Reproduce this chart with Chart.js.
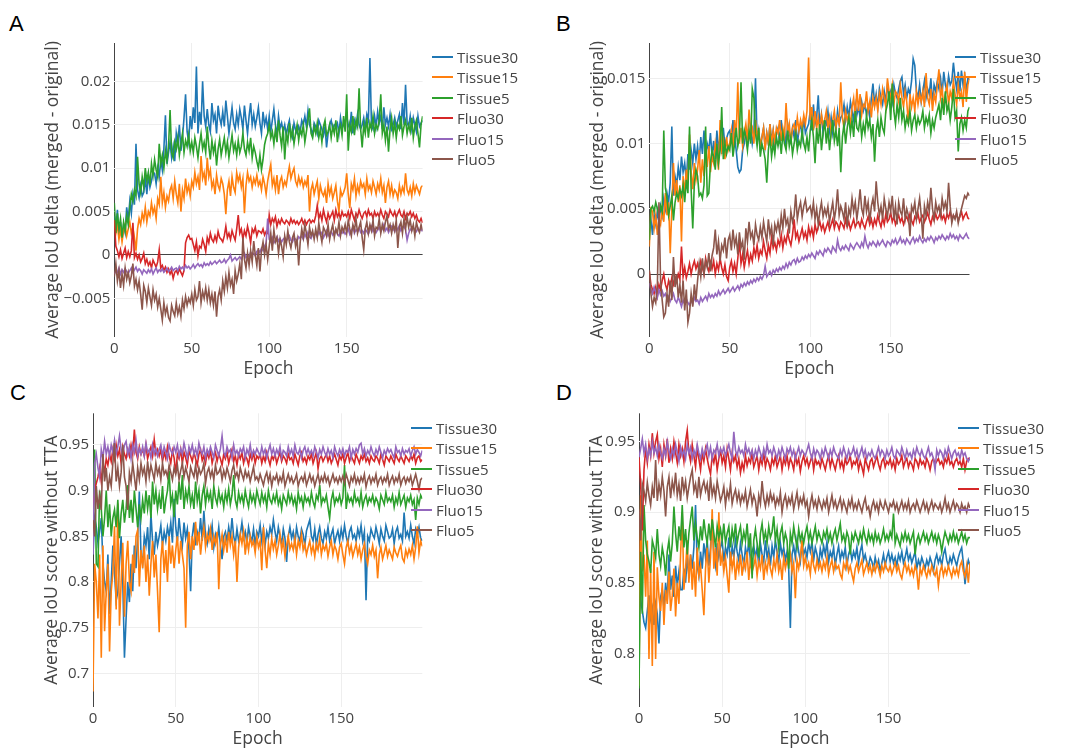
<!DOCTYPE html>
<html>
<head>
<meta charset="utf-8">
<script src="https://cdn.jsdelivr.net/npm/chart.js@4.4.1/dist/chart.umd.min.js"></script>
<style>
html,body{margin:0;padding:0;background:#fff;overflow:hidden;width:1067px;height:748px;}
canvas{position:absolute;}
.lbl{position:absolute;font-family:"Liberation Sans",Arial,sans-serif;font-size:22px;line-height:22px;color:#000;}
.leg{position:absolute;font-family:"Open Sans",sans-serif;font-size:15px;color:#444;z-index:5;}
.leg div{position:absolute;white-space:nowrap;height:20px;line-height:20px;}
.leg span.sw{position:absolute;left:0;top:9px;width:21px;height:2px;}
.leg span.tx{position:absolute;left:25px;top:0;}
</style>
</head>
<body>
<div class="lbl" style="left:9px;top:13px">A</div>
<div class="lbl" style="left:556px;top:13px">B</div>
<div class="lbl" style="left:10px;top:382px">C</div>
<div class="lbl" style="left:556px;top:382px">D</div>
<canvas id="cA" width="540" height="390" style="left:0;top:0"></canvas>
<canvas id="cB" width="522" height="390" style="left:545px;top:0"></canvas>
<canvas id="cC" width="540" height="380" style="left:0;top:380px"></canvas>
<canvas id="cD" width="522" height="380" style="left:545px;top:380px"></canvas>
<div class="leg" id="legA" style="left:432px;top:47px"></div>
<div class="leg" id="legB" style="left:955px;top:47px"></div>
<div class="leg" id="legC" style="left:411px;top:418px"></div>
<div class="leg" id="legD" style="left:958px;top:418px"></div>
<script>
// ---- series names and colours ----
const seriesNames = ['Tissue30','Tissue15','Tissue5','Fluo30','Fluo15','Fluo5'];
const seriesColors = ['#1f77b4','#ff7f0e','#2ca02c','#d62728','#9467bd','#8c564b'];
const xTicks = [0,50,100,150];
const epochCount = 200;
// units: panels A,B values in 1e-4 ; panels C,D in 1e-3
const deltaUnit = 1e-4;
const scoreUnit = 1e-3;

// ---- Panel A: Average IoU delta (merged - original), x1e-4 ----
const aTissue30 = [45,30,52,22,38,18,35,26,55,40, 62,48,70,58,128,75,66,80,68,72, 88,70,92,78,85,95,94,82,100,90, 110,98,122,161,105,118,130,112,125,108, 140,128,150,120,135,158,185,142,130,160, 145,170,152,217,140,165,150,200,160,148, 168,150,142,175,155,162,140,172,158,150, 165,148,178,160,140,155,170,152,145,162, 150,168,158,145,172,155,140,160,175,150, 162,148,158,170,152,140,165,150,158,145, 160,142,155,168,150,138,160,146,152,142, 150,138,148,155,140,135,152,144,140,148, 142,155,150,160,148,166,150,145,138,152, 148,140,155,150,145,138,148,124,140,150, 155,145,150,148,152,140,158,146,150,155, 160,150,145,165,140,155,148,162,150,145, 150,158,146,162,155,227,150,145,160,148, 165,152,160,145,170,150,158,148,162,145, 150,158,148,155,162,145,175,150,196,152, 148,160,145,158,150,142,160,148,152,155];
const aTissue15 = [40,25,35,18,30,15,28,35,22,30, 38,25,32,20,5,30,42,35,48,40, 55,38,50,45,60,48,55,42,65,58, 90,60,72,55,68,62,75,80,65,85, 70,60,82,50,75,65,88,72,80,68, 85,78,95,82,90,75,114,88,95,80, 112,90,98,78,85,70,92,80,75,88, 82,70,47,75,85,68,90,78,72,95, 85,92,78,88,48,80,95,85,90,78, 88,82,92,80,85,75,90,82,70,85, 95,104,80,88,75,92,70,85,90,78, 85,80,92,102,88,95,100,85,80,90, 82,88,78,85,80,92,50,75,82,70, 78,85,65,80,72,68,75,60,82,70, 78,65,72,80,62,50,75,68,72,78, 94,70,54,82,75,88,68,80,72,85, 78,82,70,88,75,80,72,85,78,70, 82,75,88,72,80,60,78,85,70,80, 68,75,72,65,80,70,78,72,94,75, 70,78,68,82,72,80,75,70,78,80];
const aTissue5 = [60,25,48,30,42,20,38,28,45,35, 55,70,62,75,68,113,82,72,90,78, 100,85,95,80,105,92,110,98,90,128, 105,115,100,120,108,125,167,118,112,130, 122,135,115,128,140,118,132,125,138,120, 130,118,135,125,112,128,140,122,130,118, 148,125,110,132,118,128,103,122,133,115, 125,135,118,130,112,125,138,120,128,115, 132,118,125,140,122,115,130,120,135,112, 125,118,108,100,115,98,110,127,135,140, 150,135,142,128,145,130,155,138,125,148, 110,140,130,152,135,145,128,140,150,132, 145,138,150,130,142,155,169,140,135,148, 140,152,135,145,130,148,155,138,142,150, 135,148,140,155,130,145,150,138,160,142, 185,120,150,142,160,138,155,148,192,145, 124,150,140,158,135,152,145,160,140,150, 145,155,185,140,150,132,148,119,145,158, 140,152,135,150,145,160,138,148,155,140, 150,142,158,135,148,155,140,124,150,160];
const aFluo30 = [40,10,5,-2,6,-4,2,8,-3,4, -2,5,37,-3,2,-5,0,-8,-4,2, -10,-5,-12,-8,-15,-6,-10,-14,-8,6, -15,-12,-18,-14,-20,-16,-22,-18,-27,-20, -18,-22,-16,-20,-24,-18,14,20,23,18, 19,12,5,15,-1,10,8,18,12,4, 20,14,25,18,15,22,16,27,20,18, 15,22,33,20,25,18,28,22,17,30, 46,25,30,18,28,22,33,25,14,30, 26,32,22,28,27,25,30,23,27,25, 46,35,42,38,44,33,40,36,42,38, 36,40,38,35,42,37,40,36,39,35, 38,42,36,40,35,39,41,37,40,38, 45,57,42,48,40,52,44,38,48,42, 46,50,40,52,44,48,42,50,45,47, 44,50,42,52,46,40,48,44,52,46, 42,48,50,44,52,46,48,42,50,45, 48,44,52,46,42,50,47,44,52,48, 45,50,43,48,52,46,44,50,42,48, 46,50,44,48,42,46,40,38,42,37];
const aFluo15 = [-22,-18,-20,-15,-22,-17,-20,-16,-19,-21, -18,-15,-20,-17,-14,-19,-16,-18,-22,-17, -19,-21,-17,-20,-16,-22,-18,-15,-20,-17, -19,-16,-20,-18,-15,-19,-17,-14,-18,-16, -15,-18,-13,-16,-14,-17,-12,-15,-13,-16, -14,-11,-15,-12,-10,-13,-11,-14,-9,-12, -10,-12,-8,-11,-9,-7,-10,-8,-6,-9, -8,-5,-9,-6,-4,0,-7,-5,-3,-6, -4,-2,-5,-1,2,-3,0,-2,3,1, 2,-1,4,6,3,8,5,10,14,42, 18,15,20,14,17,21,16,19,15,18, 20,16,19,22,17,15,20,18,16,21, 19,22,18,24,20,26,21,19,24,22, 25,21,27,23,26,20,24,28,22,25, 27,23,26,29,24,22,27,25,28,24, 26,30,24,28,32,25,29,27,31,26, 28,25,30,27,24,29,33,27,30,26, 29,32,27,30,35,28,31,26,30,33, 30,27,32,29,34,28,31,33,29,17, 25,30,28,32,29,27,31,28,30,27];
const aFluo5 = [-25,-10,-30,-18,-38,-22,-35,-15,-28,-20, -32,-24,-10,-36,-28,-40,-30,-45,-63,-35, -42,-55,-38,-48,-58,-40,-52,-45,-60,-50, -62,-75,-55,-68,-60,-72,-76,-58,-65,-70, -55,-68,-60,-71,-52,-62,-48,-58,-50,-55, -45,-58,-40,-52,-48,-30,-55,-42,-50,-38, -52,-40,-55,-45,-58,-42,-71,-48,-40,-52, -30,-42,-25,-38,-20,-35,-28,-45,-18,-30, -22,-10,-28,20,-5,-15,2,-12,5,-8, 16,0,-12,8,-19,5,15,0,12,-5, 10,25,5,29,15,20,2,18,10,-2, 22,12,28,15,8,20,25,10,18,-12, 15,30,20,35,25,12,32,22,28,18, 30,20,37,25,15,32,28,22,35,18, 28,35,20,30,25,38,22,32,27,35, 25,40,30,22,35,28,42,25,32,38, 20,6,30,38,25,35,28,40,22,32, 30,42,25,35,28,38,45,30,35,25, 35,28,40,8,32,38,25,42,30,44, 32,40,28,35,22,38,30,26,35,28];

// ---- Panel B: Average IoU delta (merged - original), x1e-4 ----
const bTissue30 = [35,42,30,45,38,48,40,52,45,58, 50,62,55,70,113,60,75,68,82,72, 90,78,85,72,92,80,95,85,100,88, 98,85,105,92,110,88,100,95,108,90, 102,88,110,95,105,92,112,98,104,108, 110,100,118,105,95,82,78,80,95,100, 110,98,105,112,100,108,150,102,110,96, 105,112,98,108,100,115,102,110,95,108, 112,100,118,105,110,98,115,108,102,112, 105,118,100,110,115,105,120,108,112,115, 125,110,130,115,120,137,112,122,108,118, 115,125,110,120,108,118,112,125,115,120, 122,130,118,128,120,132,125,118,130,122, 128,120,132,125,130,122,128,120,135,146, 130,138,128,142,135,130,140,132,145,136, 140,132,145,138,135,142,148,151,138,145, 135,142,138,148,165,160,140,135,145,132, 140,148,135,142,138,150,130,145,140,148, 142,150,138,155,145,140,152,145,148,162, 150,142,155,140,156,145,152,140,150,149];
const bTissue15 = [21,50,48,35,45,30,42,38,50,40, 62,45,55,16,50,85,60,72,55,68, 25,75,62,80,70,107,78,65,85,72, 80,95,70,88,75,92,82,98,78,90, 85,100,92,80,118,95,102,88,105,95, 100,110,95,118,105,147,100,112,98,108, 115,102,126,108,112,100,118,105,110,98, 105,112,95,108,100,115,98,110,102,112, 108,118,102,112,105,131,108,115,100,112, 115,108,120,110,118,112,122,115,125,166, 118,128,110,125,112,120,108,122,115,118, 125,112,120,108,118,125,112,120,115,147, 120,112,125,118,122,115,128,135,120,142, 125,138,122,130,128,140,125,132,120,135, 128,135,125,138,130,142,135,128,150,140, 135,145,130,140,138,132,145,135,128,140, 132,115,138,128,135,125,140,130,138,132, 140,128,154,135,130,142,125,138,132,145, 157,135,142,128,138,145,130,140,135,148, 138,130,145,135,140,128,155,132,145,150];
const bTissue5 = [26,50,52,48,55,50,45,52,48,110, 66,58,45,52,60,41,55,62,58,65, 60,68,55,72,62,113,65,35,70,80, 75,60,62,58,68,113,60,62,85,95, 90,80,100,85,95,128,88,100,92,98, 95,108,90,100,112,98,105,147,100,110, 105,95,110,100,142,135,108,98,112,90, 100,95,88,70,95,105,90,100,92,105, 98,105,92,108,100,95,110,98,105,92, 100,108,95,102,98,110,100,95,105,94, 110,118,105,85,112,100,115,95,108,118, 100,112,95,108,118,102,110,98,112,78, 105,115,100,112,120,108,118,105,125,112, 110,120,105,115,108,122,112,118,105,115, 86,110,118,105,120,112,108,125,130,140, 118,146,125,115,130,120,135,118,125,112, 120,115,125,110,118,122,112,120,115,118, 125,112,120,115,122,108,118,112,120,125, 130,118,135,122,140,125,130,118,128,142, 120,125,94,115,120,110,118,112,125,128];
const bFluo30 = [2,-8,-12,-15,-10,-17,-8,-12,-5,0, -8,-12,-5,-10,-3,-8,-2,-6,0,-4, 21,-2,5,-3,2,8,0,6,10,4, 8,2,10,5,0,12,6,2,9,4, 10,0,8,3,12,5,0,7,-2,-5, 5,10,2,8,0,12,25,8,15,5, 12,18,8,15,10,20,14,22,12,18, 15,25,18,12,22,16,28,20,24,18, 26,22,30,20,28,24,32,26,22,30, 42,28,32,25,30,35,28,32,26,36, 30,35,28,38,32,36,40,34,38,32, 36,40,34,38,42,35,40,38,34,40, 38,35,42,36,40,34,38,42,36,39, 40,36,42,38,35,40,44,38,42,36, 42,38,45,40,36,43,38,46,40,42, 47,40,44,38,42,45,40,43,38,42, 44,40,46,41,38,44,42,46,40,43, 45,40,43,47,42,38,44,41,46,42, 44,48,42,45,40,46,43,48,42,45, 43,46,41,44,48,42,45,47,43,42];
const bFluo15 = [-7,-12,-15,-10,-14,-18,-12,-16,-13,-17, -15,-19,-17,-21,-18,-15,-20,-22,-18,-21, -25,-20,-23,-19,-22,-24,-20,-23,-18,-21, -20,-23,-18,-21,-19,-17,-20,-15,-18,-16, -18,-15,-17,-13,-16,-14,-12,-15,-13,-11, -14,-12,-10,-13,-11,-9,-12,-8,-10,-7, -9,-6,-8,-5,-7,-4,-6,-3,-5,-2, -4,-1,6,-2,0,2,-1,3,1,4, 2,5,3,6,4,8,5,9,7,10, 11,8,12,9,10,13,11,14,12,15, 13,16,14,12,17,15,18,16,14,19, 17,20,18,16,21,19,17,26,20,18, 21,19,22,20,18,23,21,19,22,24, 22,20,24,21,29,23,20,24,22,25, 23,21,25,22,24,26,23,21,25,24, 22,26,24,27,23,25,28,24,26,23, 27,25,23,26,28,24,27,25,29,26, 24,27,25,28,26,29,27,24,28,26, 29,27,30,28,26,29,27,31,28,30, 27,29,26,30,28,27,29,31,28,27];
const bFluo5 = [3,-15,-25,-18,-22,-10,55,-5,-20,-33, -30,-15,-25,-5,-20,13,-10,0,-18,-8, -22,-5,-28,-12,-37,-30,-15,-25,-8,-20, -5,8,-2,12,0,10,5,16,2,14, 20,34,15,25,10,22,18,28,12,26, 30,18,34,22,28,15,32,20,25,11, 35,25,40,28,32,22,38,30,26,36, 28,40,32,25,42,30,36,22,38,33, 40,32,45,35,50,38,42,31,48,40, 45,61,42,50,55,44,52,57,48,50, 52,45,55,42,50,38,48,55,44,50, 45,52,40,48,55,42,50,65,45,52, 48,42,55,36,50,45,58,48,55,42, 52,65,50,45,60,48,55,40,52,58, 48,71,55,45,52,42,58,50,44,55, 48,60,42,52,38,55,48,45,58,42, 50,45,29,52,48,55,42,50,58,45, 27,52,45,55,48,66,50,42,55,48, 52,45,58,50,55,48,70,52,39,45, 42,48,39,45,50,55,60,58,62,60];

// ---- Panel C: Average IoU score without TTA, x1e-3 ----
const cTissue30 = [830,870,860,843,855,870,820,800,790,830, 765,800,840,810,780,789,820,850,800,717, 760,800,778,820,790,840,815,850,899,830, 820,850,840,860,825,875,845,830,855,840, 850,862,840,855,845,860,850,865,843,891, 860,845,870,852,840,865,848,858,835,790, 850,865,840,855,848,870,845,878,850,842, 858,848,862,838,852,845,860,840,825,850, 855,845,860,848,870,850,842,858,845,852, 865,848,855,842,860,850,845,858,840,855, 850,862,845,858,840,855,848,860,852,868, 855,845,860,850,842,858,848,822,850,860, 848,855,842,860,850,845,858,852,840,856, 862,868,850,845,858,840,852,860,848,842, 855,848,860,845,852,858,842,850,856,845, 858,848,862,850,842,855,860,848,852,845, 858,850,862,845,855,780,850,845,858,852, 848,860,852,842,858,850,845,862,855,848, 850,858,842,855,860,848,852,845,876,850, 855,848,862,850,842,858,852,860,848,845];
const cTissue15 = [680,820,800,760,830,717,840,746,790,820, 724,790,810,861,770,886,752,800,843,762, 820,845,800,790,830,810,850,857,795,835, 815,840,800,830,785,820,845,805,830,790, 745,825,845,810,835,800,850,820,840,815, 835,850,820,845,830,815,750,840,855,825, 850,835,866,840,855,830,848,860,838,852, 845,858,835,850,842,855,792,840,852,835, 848,832,855,840,850,830,845,800,838,852, 842,855,830,848,835,850,840,845,832,850, 838,845,813,860,835,815,842,830,848,836, 845,830,840,852,835,845,828,840,850,836, 842,835,848,830,845,838,852,835,842,830, 838,845,832,840,828,842,835,848,830,840, 835,842,828,838,845,830,840,835,825,838, 842,830,820,838,845,832,840,828,835,842, 830,838,825,835,842,828,820,835,830,840, 828,835,804,830,838,825,832,840,828,835, 830,825,838,832,828,835,840,826,822,835, 828,836,830,840,825,838,861,832,845,839];
const cTissue5 = [860,945,820,817,900,880,850,870,900,860, 885,850,870,879,860,890,848,875,890,865, 880,906,870,890,865,900,880,860,885,870, 890,875,900,880,895,870,910,885,900,880, 895,880,905,875,890,900,922,885,895,871, 900,885,910,890,917,880,900,890,905,885, 895,880,910,888,900,875,895,905,885,900, 890,898,880,905,892,885,900,888,895,882, 898,888,902,885,895,917,890,882,898,888, 895,885,900,890,882,898,888,895,885,900, 892,885,898,888,895,882,900,890,886,895, 888,898,885,892,880,895,890,885,898,888, 895,885,892,880,898,888,893,882,895,888, 892,885,898,888,882,895,890,906,885,892, 888,895,882,870,890,898,885,892,888,895, 885,892,928,880,895,888,892,885,898,888, 892,885,898,882,890,895,885,892,888,895, 885,892,888,880,895,890,885,898,888,892, 888,895,882,892,886,898,885,890,895,882, 892,888,895,885,890,868,892,885,895,891];
const cFluo30 = [880,900,908,915,925,910,930,920,935,928, 940,932,945,935,950,938,945,930,948,940, 935,945,938,950,940,967,942,935,948,940, 945,938,950,935,942,948,938,956,940,945, 938,945,932,942,935,948,938,930,944,936, 919,940,935,945,930,942,936,928,944,938, 932,942,935,928,940,945,933,938,930,942, 936,944,930,938,942,932,940,935,928,940, 935,942,930,938,945,932,938,928,940,935, 942,930,938,935,928,940,934,942,930,938, 935,940,930,938,932,942,935,928,938,934, 940,930,936,942,932,938,935,930,940,934, 936,930,940,934,928,938,942,932,936,930, 938,934,940,930,936,942,924,935,938,932, 936,940,932,938,930,935,940,934,928,938, 934,940,930,936,942,932,938,934,930,940, 935,930,938,934,940,932,936,930,938,934, 932,938,935,930,940,934,928,938,935,932, 938,934,930,940,935,932,938,934,930,938, 935,932,938,934,940,930,936,938,932,934];
const cFluo15 = [830,930,940,925,915,945,935,954,940,948, 938,950,942,955,940,948,960,945,938,950, 954,940,948,935,950,942,955,938,946,940, 948,938,952,942,945,936,950,940,946,938, 945,950,938,948,942,935,950,944,940,948, 942,950,938,946,940,952,944,936,948,942, 950,940,946,938,952,944,940,948,936,945, 940,948,942,936,950,944,938,946,960,942, 938,948,942,945,936,950,940,944,938,946, 942,948,936,945,940,950,938,944,940,946, 942,938,948,940,945,936,944,950,940,946, 938,945,940,948,936,944,942,938,948,940, 945,938,950,942,940,946,936,944,948,940, 946,940,944,938,948,942,936,945,940,948, 942,938,946,940,944,936,948,942,938,945, 940,946,938,944,942,948,936,945,940,946, 942,950,952,940,946,938,944,940,948,942, 938,945,940,948,942,936,944,940,946,942, 945,940,936,948,942,944,938,946,940,944, 942,946,938,944,948,940,945,942,938,944];
const cFluo5 = [868,850,905,880,895,879,940,910,925,900, 915,905,930,952,910,925,905,920,950,915, 905,879,920,910,930,915,900,925,912,930, 918,925,910,932,915,928,920,912,930,918, 925,912,930,918,922,915,928,920,912,925, 918,928,912,922,930,915,925,918,910,926, 920,915,928,912,925,918,922,930,908,920, 925,915,922,912,928,918,920,925,912,922, 915,925,918,910,922,928,915,920,912,925, 918,912,922,915,920,910,918,926,912,915, 910,918,912,906,915,920,910,918,905,915, 912,918,908,915,910,920,905,912,918,910, 915,908,912,918,905,912,915,910,918,906, 912,918,910,915,905,912,918,908,915,910, 918,910,915,906,912,918,910,914,908,915, 910,916,908,918,912,905,915,910,918,908, 914,908,915,910,918,904,912,916,908,914, 910,918,906,912,915,908,914,910,918,906, 912,916,908,914,910,918,906,912,915,908, 914,910,916,906,912,918,910,901,912,914];

// ---- Panel D: Average IoU score without TTA, x1e-3 ----
const dTissue30 = [828,838,830,822,818,830,841,825,832,820, 835,828,807,840,845,832,850,838,870,845, 855,840,862,848,858,845,845,860,850,868, 855,870,860,875,905,862,855,872,860,878, 868,880,862,875,895,870,862,878,868,875, 880,865,875,870,882,862,876,868,880,872, 866,878,870,862,875,868,880,865,872,876, 868,875,862,878,870,865,880,868,874,862, 876,868,880,872,865,878,870,875,866,872, 860,818,870,876,868,880,872,865,878,870, 874,868,878,872,879,866,875,870,862,874, 868,876,870,879,865,872,868,875,862,870, 876,866,872,868,875,862,870,874,866,872, 868,875,864,872,877,866,870,864,862,868, 865,860,868,862,866,858,864,870,862,868, 872,865,870,864,868,862,870,866,872,864, 868,874,866,870,864,868,872,860,866,862, 868,864,860,866,862,868,864,858,866,870, 864,868,862,870,874,866,862,868,864,870, 866,862,868,872,875,864,849,860,866,862];
const dTissue15 = [777,912,858,870,840,880,796,860,791,872, 796,861,840,830,850,820,845,835,858,830, 841,860,826,850,835,870,900,845,860,880, 850,870,845,865,840,875,855,862,845,827, 860,875,850,868,902,860,875,855,900,862, 870,858,868,855,843,872,860,868,852,865, 858,870,855,865,860,872,852,866,858,862, 868,855,865,860,870,852,864,858,868,860, 855,866,860,870,858,864,852,868,860,866, 862,870,858,864,839,866,860,868,880,862, 868,860,864,856,870,862,858,866,860,864, 858,865,860,868,856,862,866,858,864,860, 862,856,853,864,860,866,858,862,856,851, 860,864,858,862,866,856,860,864,858,862, 856,862,858,864,860,855,862,858,864,860, 858,862,856,860,864,858,862,856,853,860, 864,858,862,856,860,855,862,858,845,860, 856,862,858,854,860,856,862,858,855,860, 848,858,862,855,860,856,862,858,854,860, 856,860,855,862,865,858,854,862,850,864];
const dTissue5 = [775,872,828,905,880,870,865,857,880,875, 868,888,870,862,875,868,855,872,880,865, 878,904,885,872,890,880,905,875,888,870, 885,895,904,880,892,882,875,890,880,895, 885,878,892,880,895,885,875,890,882,888, 880,892,878,885,890,875,888,880,892,878, 885,890,878,886,880,892,875,885,853,880, 888,878,868,885,892,880,886,878,890,882, 886,897,880,888,875,885,890,878,885,880, 860,885,878,890,882,875,888,880,885,878, 885,890,880,886,878,884,890,880,886,882, 878,886,882,888,880,885,878,884,888,880, 886,892,880,884,878,886,882,870,884,880, 886,882,878,885,880,888,882,878,886,880, 884,878,886,880,884,878,882,888,880,884, 880,886,882,899,878,884,880,876,884,880, 886,880,884,878,882,886,870,880,884,878, 882,886,880,884,878,882,886,880,884,878, 884,880,872,880,886,882,878,884,880,886, 880,884,878,882,886,880,884,878,882,882];
const dFluo30 = [939,920,887,930,945,935,948,940,956,942, 950,955,938,945,932,948,940,952,935,945, 938,950,942,935,948,940,945,936,950,958, 942,936,948,940,932,945,938,930,942,936, 945,938,932,927,940,935,942,930,938,944, 935,940,932,945,938,930,942,936,940,932, 938,928,935,930,940,933,938,935,942,932, 936,940,930,938,934,942,932,938,935,930, 938,934,940,932,936,940,930,938,934,940, 932,938,935,930,940,934,938,929,936,940, 934,938,932,936,940,930,938,934,936,932, 938,934,930,936,940,932,938,934,930,936, 940,932,936,930,938,934,936,940,932,936, 934,938,930,936,932,927,938,934,930,936, 938,932,936,940,934,930,936,938,932,936, 934,938,932,936,930,938,934,936,940,932, 936,938,932,936,934,930,938,936,932,938, 934,936,932,938,935,930,936,938,934,936, 938,934,936,932,938,935,940,934,936,932, 936,938,934,936,932,938,930,936,938,937];
const dFluo15 = [939,945,952,942,948,938,945,940,950,942, 946,940,948,942,938,945,940,950,943,938, 945,940,948,942,936,946,940,944,938,948, 942,946,938,944,940,948,942,938,945,940, 944,948,940,946,938,944,942,948,940,945, 942,946,940,944,948,942,938,957,944,940, 946,942,944,940,948,942,945,940,944,938, 944,940,946,942,938,945,940,948,942,944, 940,946,942,938,944,940,946,942,938,945, 942,946,940,944,938,942,946,940,944,942, 940,944,948,942,938,945,940,944,942,938, 944,940,946,942,938,944,940,946,942,940, 938,944,940,946,942,938,944,940,942,946, 940,944,938,942,946,940,944,938,942,940, 944,940,938,942,946,940,944,942,938,944, 940,942,946,940,938,944,942,940,946,942, 938,944,940,942,938,944,940,946,942,940, 944,940,938,942,946,940,942,938,930,944, 940,944,942,938,944,940,946,942,938,942, 944,940,942,938,944,940,942,938,936,939];
const dFluo5 = [902,880,920,915,908,921,912,905,918,910, 937,908,920,912,925,915,897,918,925,910, 922,915,928,912,920,908,925,915,922,910, 918,925,930,915,920,910,925,912,918,922, 915,920,908,925,912,918,910,922,915,908, 912,918,905,915,910,920,906,912,916,908, 914,906,912,908,915,904,910,916,906,912, 908,897,912,906,922,910,904,912,906,914, 908,912,904,910,906,914,900,908,912,904, 910,906,912,902,908,914,904,910,906,912, 904,908,897,906,912,904,908,902,910,906, 902,908,904,910,900,906,912,904,908,902, 906,910,902,908,904,900,908,904,910,902, 906,902,908,904,900,906,910,902,904,897, 904,908,902,906,900,908,904,902,908,904, 900,906,904,908,902,906,900,904,908,902, 906,902,908,900,904,906,902,908,904,900, 904,908,902,906,900,904,908,902,906,904, 902,906,900,904,910,902,906,900,904,908, 902,906,904,900,906,902,904,900,906,903];

// ---- axis ticks ----
const yTicksA = [-0.005,0,0.005,0.01,0.015,0.02];
const yLabelsA = ['\u22120.005','0','0.005','0.01','0.015','0.02'];
const yTicksB = [0,0.005,0.01,0.015];
const yLabelsB = ['0','0.005','0.01','0.015'];
const yTicksC = [0.7,0.75,0.8,0.85,0.9,0.95];
const yLabelsC = ['0.7','0.75','0.8','0.85','0.9','0.95'];
const yTicksD = [0.8,0.85,0.9,0.95];
const yLabelsD = ['0.8','0.85','0.9','0.95'];
const titleDelta = 'Average IoU delta (merged - original)';
const titleScore = 'Average IoU score without TTA';

const epochs = Array.from({length: epochCount}, (_, i) => i);
const FONT = '"Open Sans", sans-serif';

function buildLegend(id) {
  const el = document.getElementById(id);
  seriesNames.forEach((n, i) => {
    const d = document.createElement('div');
    d.style.top = (i * 20.45) + 'px';
    d.innerHTML = '<span class="sw" style="background:' + seriesColors[i] + '"></span><span class="tx">' + n + '</span>';
    el.appendChild(d);
  });
}

function makeChart(canvasId, cfg) {
  const datasets = cfg.series.map((arr, i) => ({
    label: seriesNames[i],
    data: arr.map((v, j) => ({x: epochs[j], y: v * cfg.unit})),
    borderColor: seriesColors[i],
    backgroundColor: seriesColors[i],
    borderWidth: 1.6,
    pointRadius: 0,
    tension: 0,
    fill: false,
    order: seriesNames.length - 1 - i
  }));
  new Chart(document.getElementById(canvasId), {
    type: 'line',
    data: {datasets},
    options: {
      responsive: false,
      animation: false,
      events: [],
      layout: {padding: cfg.pad},
      plugins: {legend: {display: false}, tooltip: {enabled: false}},
      scales: {
        x: {
          type: 'linear', min: 0, max: epochCount - 1,
          afterBuildTicks: s => { s.ticks = xTicks.map(v => ({value: v})); },
          afterFit: s => { s.height = 45; },
          grid: {color: c => (c.tick && c.tick.value === 0) ? '#444' : '#eeeeee', lineWidth: 1, drawTicks: false},
          border: {display: false},
          ticks: {padding: 3, color: '#444', font: {family: FONT, size: 15}, maxRotation: 0, autoSkip: false, callback: v => String(v)},
          title: {display: true, text: 'Epoch', color: '#444', font: {family: FONT, size: 17.5}, padding: {top: 0, bottom: 2}}
        },
        y: {
          type: 'linear', min: cfg.ymin, max: cfg.ymax,
          afterBuildTicks: s => { s.ticks = cfg.yTicks.map(v => ({value: v})); },
          afterFit: s => { s.width = cfg.yw; },
          grid: {color: c => (cfg.zero && c.tick && c.tick.value === 0) ? '#444' : '#eeeeee', lineWidth: 1, drawTicks: false},
          border: {display: false},
          ticks: {padding: 4, color: '#444', font: {family: FONT, size: 15}, autoSkip: false,
                  callback: v => { const k = cfg.yTicks.indexOf(v); return k >= 0 ? cfg.yLabels[k] : ''; }},
          title: {display: true, text: cfg.title, color: '#444', font: {family: FONT, size: 17.5}, padding: {top: 4, bottom: 0}}
        }
      }
    }
  });
}

makeChart('cA', {series: [aTissue30,aTissue15,aTissue5,aFluo30,aFluo15,aFluo5], unit: deltaUnit,
  ymin: -0.00945, ymax: 0.02442, yTicks: yTicksA, yLabels: yLabelsA, zero: true, title: titleDelta,
  yw: 76, pad: {left: 38.3, top: 43, right: 117.4, bottom: 8}});
makeChart('cB', {series: [bTissue30,bTissue15,bTissue5,bFluo30,bFluo15,bFluo5], unit: deltaUnit,
  ymin: -0.00483, ymax: 0.01771, yTicks: yTicksB, yLabels: yLabelsB, zero: true, title: titleDelta,
  yw: 65.8, pad: {left: 38.5, top: 43, right: 97.5, bottom: 8}});
makeChart('cC', {series: [cTissue30,cTissue15,cTissue5,cFluo30,cFluo15,cFluo5], unit: scoreUnit,
  ymin: 0.6631, ymax: 0.9847, yTicks: yTicksC, yLabels: yLabelsC, zero: false, title: titleScore,
  yw: 55.5, pad: {left: 37.5, top: 33.3, right: 117.7, bottom: 8}});
makeChart('cD', {series: [dTissue30,dTissue15,dTissue5,dFluo30,dFluo15,dFluo5], unit: scoreUnit,
  ymin: 0.7619, ymax: 0.9701, yTicks: yTicksD, yLabels: yLabelsD, zero: false, title: titleScore,
  yw: 56.5, pad: {left: 37.5, top: 33.3, right: 97, bottom: 8}});

['legA','legB','legC','legD'].forEach(buildLegend);
</script>
</body>
</html>
